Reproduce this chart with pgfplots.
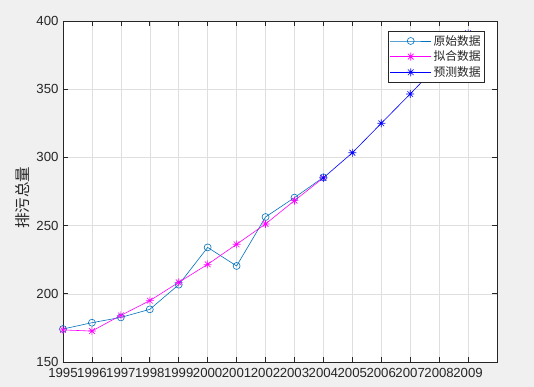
\documentclass[border=0pt]{standalone}
\usepackage{pgfplots}
\pgfplotsset{compat=1.18}
\usepackage{fontspec}
\setmainfont{Liberation Sans}
\newfontfamily\cjk{Noto Sans CJK SC}
\definecolor{figbg}{HTML}{F0F0F0}
\definecolor{axc}{HTML}{262626}
\definecolor{mblue}{rgb}{0,0.447,0.741}
\definecolor{mmag}{rgb}{1,0,1}
\definecolor{pblue}{rgb}{0,0,1}
\definecolor{gridc}{HTML}{DFDFDF}
\pgfdeclareplotmark{mstar}{%
  \pgfpathmoveto{\pgfqpoint{-\pgfplotmarksize}{0pt}}\pgfpathlineto{\pgfqpoint{\pgfplotmarksize}{0pt}}%
  \pgfpathmoveto{\pgfqpoint{0pt}{-\pgfplotmarksize}}\pgfpathlineto{\pgfqpoint{0pt}{\pgfplotmarksize}}%
  \pgfpathmoveto{\pgfqpoint{-0.707\pgfplotmarksize}{-0.707\pgfplotmarksize}}\pgfpathlineto{\pgfqpoint{0.707\pgfplotmarksize}{0.707\pgfplotmarksize}}%
  \pgfpathmoveto{\pgfqpoint{-0.707\pgfplotmarksize}{0.707\pgfplotmarksize}}\pgfpathlineto{\pgfqpoint{0.707\pgfplotmarksize}{-0.707\pgfplotmarksize}}%
  \pgfusepathqstroke}
\begin{document}
\begin{tikzpicture}[x=1pt,y=1pt]
\fill[figbg] (0,0) rectangle (534,387);
\begin{axis}[
  at={(63pt,25pt)}, anchor=south west,
  scale only axis, width=434pt, height=341pt,
  xmin=1995, xmax=2010, ymin=150, ymax=400,
  xtick={1995,...,2009}, ytick={150,200,...,400},
  /pgf/number format/1000 sep={},
  /pgf/number format/assume math mode=true,
  tick label style={font=\fontsize{13.2}{14}\selectfont, text=axc},
  xticklabel style={yshift=-2.5pt},
  yticklabel style={xshift=-1pt},
  grid=major, major grid style={gridc, line width=0.5pt},
  axis line style={axc, line width=0.6pt},
  tick style={axc, line width=0.6pt},
  major tick length=5pt,
  tick align=inside,
  xtick pos=both, ytick pos=both,
  axis background/.style={fill=white},
  ylabel={\cjk 排污总量},
  ylabel style={font=\fontsize{15.5}{17}\selectfont, text=axc, at={(axis description cs:-0.0922,0.482)}, anchor=center},
  legend style={at={(axis description cs:0.9724,0.9707)}, anchor=north east,
    font=\cjk\fontsize{11.8}{13}\selectfont, text=axc, draw=axc, line width=0.6pt,
    row sep=0.2pt, inner xsep=2pt, inner ysep=2pt, cells={anchor=west}},
  legend image code/.code={\draw[mark repeat=2,mark phase=2] plot coordinates {(0pt,0pt) (20.5pt,0pt) (41pt,0pt)};},
]
\addplot[mblue, line width=0.6pt, mark=o, mark size=3.5pt, mark options={line width=0.6pt}] coordinates {
(1995,174.2) (1996,178.8) (1997,182.7) (1998,188.6) (1999,206.7) (2000,234.0) (2001,220.4) (2002,256.3) (2003,270.5) (2004,285.4)};
\addlegendentry{原始数据}
\addplot[mmag, line width=0.6pt, mark=mstar, mark size=4pt, mark options={line width=0.6pt}] coordinates {
(1995,173.5) (1996,172.7) (1997,184.2) (1998,195.0) (1999,208.4) (2000,221.6) (2001,236.3) (2002,251.2) (2003,268.3) (2004,285.0)};
\addlegendentry{拟合数据}
\addplot[pblue, line width=0.6pt, mark=mstar, mark size=4pt, mark options={line width=0.6pt}] coordinates {
(2004,285.0) (2005,303.4) (2006,325.0) (2007,346.5) (2008,368.5) (2009,391.0)};
\addlegendentry{预测数据}
\end{axis}
\end{tikzpicture}
\end{document}
